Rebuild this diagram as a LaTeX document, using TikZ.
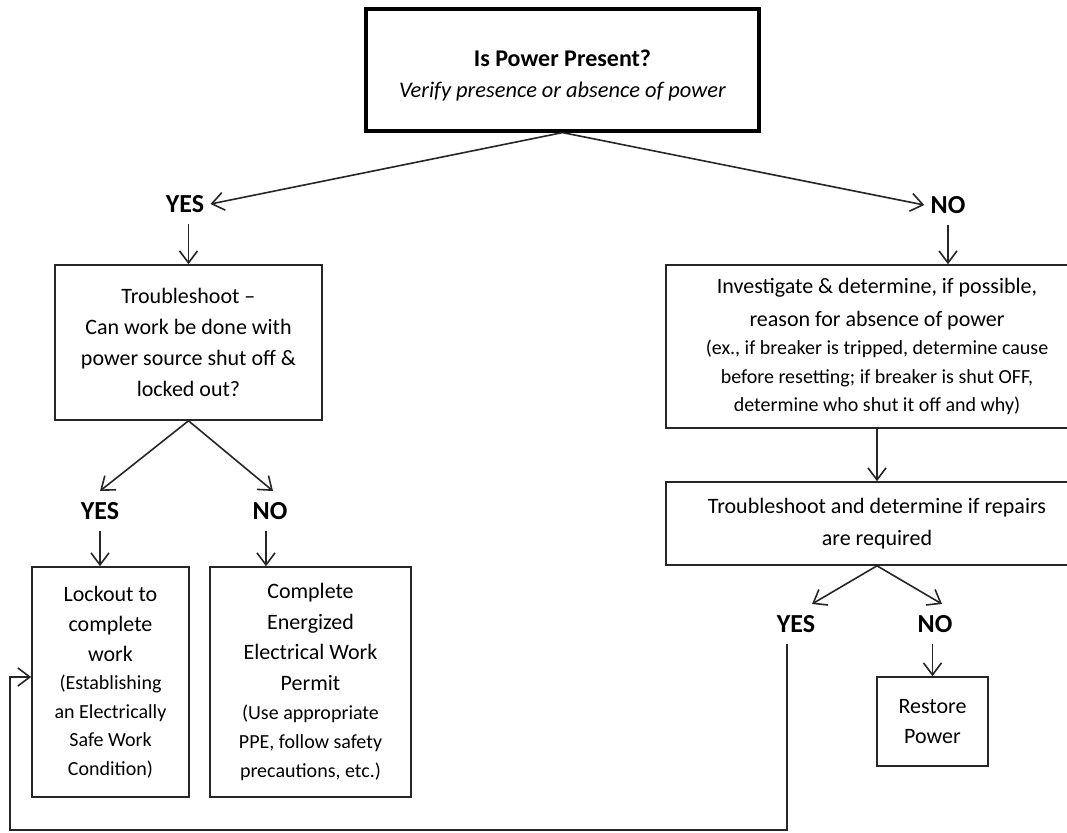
\documentclass[tikz,border=0pt]{standalone}
\usepackage{fontspec}
\setmainfont{Carlito}
\usetikzlibrary{arrows.meta}

\begin{document}
\begin{tikzpicture}[x=0.5pt, y=-0.5pt,
    box/.style={draw=black!85, line width=0.8pt, align=flush center, inner sep=0pt},
    lbl/.style={font=\fontsize{13}{15}\selectfont\bfseries, inner xsep=3pt, inner ysep=5.5pt},
    arr/.style={line width=0.8pt, draw=black!85, -{Straight Barb[length=6pt,width=9pt]}}]
    \useasboundingbox (0,0) rectangle (1067,832);

    \node[box, draw=black, line width=1.6pt, minimum width=196.5pt, minimum height=61pt, text width=190pt,
        font=\fontsize{12}{15.5}\selectfont] (power) at (562.5,70)
        {\rule{0pt}{13.5pt}\textbf{Is Power Present?}\\ \fontsize{11.2}{15.5}\selectfont\textit{Verify presence or absence of power}\par};
    \node[lbl] (yes1) at (185,204) {YES};
    \node[lbl] (no1) at (948,205) {NO};

    \node[box, minimum width=133.5pt, minimum height=77.5pt, text width=130pt,
        font=\fontsize{11}{15.6}\selectfont] (trouble) at (188.5,342.5)
        {Troubleshoot --\\ Can work be done with\\ power source shut off \&\\ locked out?\par};
    \node[lbl] (yes2) at (100,511) {YES};
    \node[lbl] (no2) at (270,511) {NO};
    \node[box, minimum width=78.5pt, minimum height=115pt, text width=76pt,
        font=\fontsize{11}{15}\selectfont] (lockout) at (110.5,682)
        {Lockout to\\ complete\\ work\par\fontsize{10}{14.2}\selectfont
        (Establishing\\ an Electrically\\ Safe Work\\ Condition)\par};
    \node[box, minimum width=100.5pt, minimum height=115pt, text width=98pt,
        font=\fontsize{11}{15.3}\selectfont] (permit) at (310.5,682)
        {Complete\\ Energized\\ Electrical Work\\ Permit\par\fontsize{10}{14.5}\selectfont
        (Use appropriate\\ PPE, follow safety\\ precautions, etc.)\par};

    \node[box, minimum width=211pt, minimum height=81.5pt, text width=205pt,
        font=\fontsize{11}{16.5}\selectfont] (invest) at (877,346.5)
        {Investigate \& determine, if possible,\\ reason for absence of power\par\fontsize{10}{14.2}\selectfont
        (ex., if breaker is tripped, determine cause\\ before resetting; if breaker is shut OFF,\\ determine who shut it off and why)\par};
    \node[box, minimum width=211pt, minimum height=41.5pt, text width=205pt,
        font=\fontsize{11}{16}\selectfont] (repairs) at (877,523.5)
        {Troubleshoot and determine if repairs\\ are required\par};
    \node[lbl] (yes3) at (796,624) {YES};
    \node[lbl] (no3) at (935,624) {NO};
    \node[box, minimum width=55.5pt, minimum height=44.5pt, text width=52pt,
        font=\fontsize{11}{15}\selectfont] (restore) at (932.5,721.5)
        {Restore\\ Power\par};

    \draw[arr] (power.south) -- (yes1.east);
    \draw[arr] (power.south) -- (no1.west);
    \draw[arr] (yes1.south -| trouble.north) -- (trouble.north);
    \draw[arr] (no1.south) -- (no1.south |- invest.north);
    \draw[arr] (trouble.south) -- (yes2.north);
    \draw[arr] (trouble.south) -- ([xshift=1.5pt]no2.north);
    \draw[arr] (yes2.south) -- (yes2.south |- lockout.north);
    \draw[arr] ([xshift=-2pt]no2.south) -- ([xshift=-2pt]no2.south |- permit.north);
    \draw[arr] (invest.south) -- (repairs.north);
    \draw[arr] (repairs.south) -- ([xshift=8pt]yes3.north);
    \draw[arr] (repairs.south) -- ([xshift=3.5pt]no3.north);
    \draw[arr] (no3.south -| restore.north) -- (restore.north);
    \draw[arr] ([xshift=-4.5pt]yes3.south) |- (10,830) |- (lockout.west |- 0,677);
\end{tikzpicture}
\end{document}
